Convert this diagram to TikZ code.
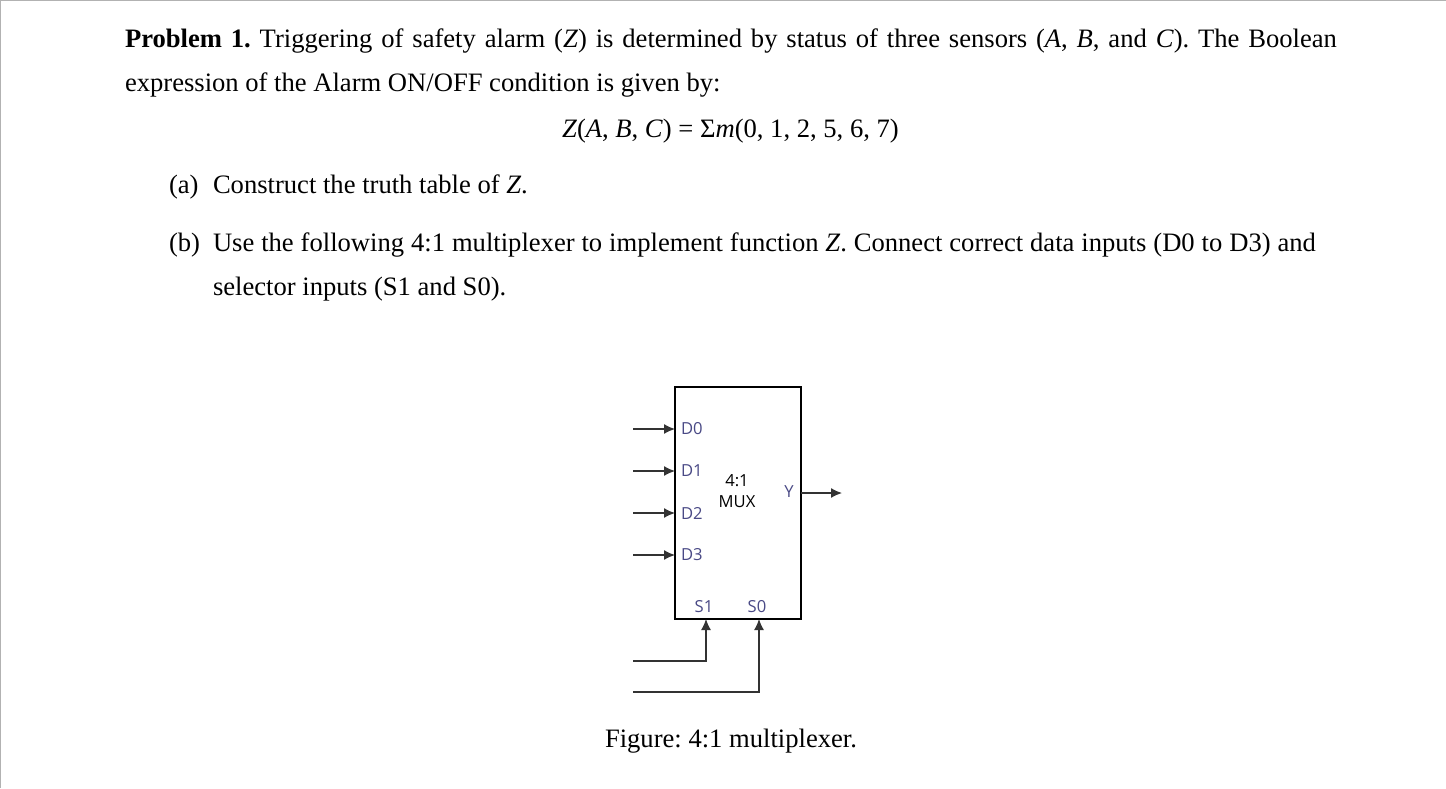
\documentclass[tikz,border=0pt]{standalone}
\usepackage{fontspec}
\setmainfont{Liberation Serif}
\newfontfamily\muxfont{Open Sans}
\usetikzlibrary{arrows.meta}
\definecolor{pinblue}{HTML}{4A4A86}
\newcommand{\bodyline}[2]{\hbox to #1{\spaceskip=0.25em plus 1fil minus 0.1em\relax #2}}
\tikzset{
  x=0.5pt,y=-0.5pt,
  txt/.style={anchor=base west,inner sep=0pt,outer sep=0pt,font=\fontsize{13.3pt}{16pt}\selectfont\frenchspacing},
  pin/.style={inner sep=0pt,outer sep=0pt,text=pinblue,font=\muxfont\fontsize{8.3pt}{10.5pt}\selectfont},
  muxbox/.style={draw=black,line width=0.9pt,minimum width=63pt,minimum height=116pt,inner sep=0pt,outer sep=0pt},
  wire/.style={draw=black!80,line width=0.65pt,-{Latex[length=5.5pt,width=5pt]}},
  frameline/.style={draw=black!30,line width=0.8pt}
}
\begin{document}
\begin{tikzpicture}
\useasboundingbox (0,0) rectangle (1446,788);
\fill[white] (0,0) rectangle (1446,788);
\coordinate (ftl) at (0.5,0.5);
\coordinate (ftr) at (1446,0.5);
\coordinate (fbl) at (0.5,788);
\draw[frameline] (fbl) -- (ftl) -- (ftr);

\node[txt] (l1) at (125,47) {\bodyline{606pt}{\textbf{Problem 1.} Triggering of safety alarm (\textit{Z}) is determined by status of three sensors (\textit{A}, \textit{B}, and \textit{C}). The Boolean}};
\node[txt] (l2) at (125,91) {expression of the Alarm ON/OFF condition is given by:};
\node[txt] (l3) at (562,137) {\textit{Z}(\textit{A}, \textit{B}, \textit{C}) = Σ\textit{m}(0, 1, 2, 5, 6, 7)};
\node[txt] (l4a) at (169,193) {(a)};
\node[txt] (l4) at (213,193) {Construct the truth table of \textit{Z}.};
\node[txt] (l5a) at (169,251) {(b)};
\node[txt] (l5) at (213,251) {\bodyline{551.5pt}{Use the following 4:1 multiplexer to implement function \textit{Z}. Connect correct data inputs (D0 to D3) and}};
\node[txt] (l6) at (213,295) {selector inputs (S1 and S0).};
\node[txt] (cap) at (605,747) {Figure: 4:1 multiplexer.};

\node[muxbox,anchor=north west] (mux) at (675,387) {};
\node[pin,anchor=west] (d0) at (681,428.5) {D0};
\node[pin,anchor=west] (d1) at (681,470.5) {D1};
\node[pin,anchor=west] (d2) at (681,513) {D2};
\node[pin,anchor=west] (d3) at (681,554.5) {D3};
\node[pin] (s1) at (704,607) {S1};
\node[pin] (s0) at (757,607) {S0};
\node[pin] (y) at (789,491.5) {Y};
\node[pin,text=black,align=center] (title) at (737,491) {4:1\\MUX};

\coordinate (d0in) at (633,429);
\coordinate (d1in) at (633,471);
\coordinate (d2in) at (633,513);
\coordinate (d3in) at (633,555);
\coordinate (s1in) at (633,661);
\coordinate (s0in) at (633,692);
\coordinate (yout) at (842,493);
\coordinate (s1top) at (706,619);
\coordinate (s0top) at (759,619);
\coordinate (yfrom) at (801,493);

\draw[wire] (d0in) -- (d0in -| mux.west);
\draw[wire] (d1in) -- (d1in -| mux.west);
\draw[wire] (d2in) -- (d2in -| mux.west);
\draw[wire] (d3in) -- (d3in -| mux.west);
\draw[wire] (s1in) -| (s1top);
\draw[wire] (s0in) -| (s0top);
\draw[wire] (yfrom) -- (yout);
\end{tikzpicture}
\end{document}
